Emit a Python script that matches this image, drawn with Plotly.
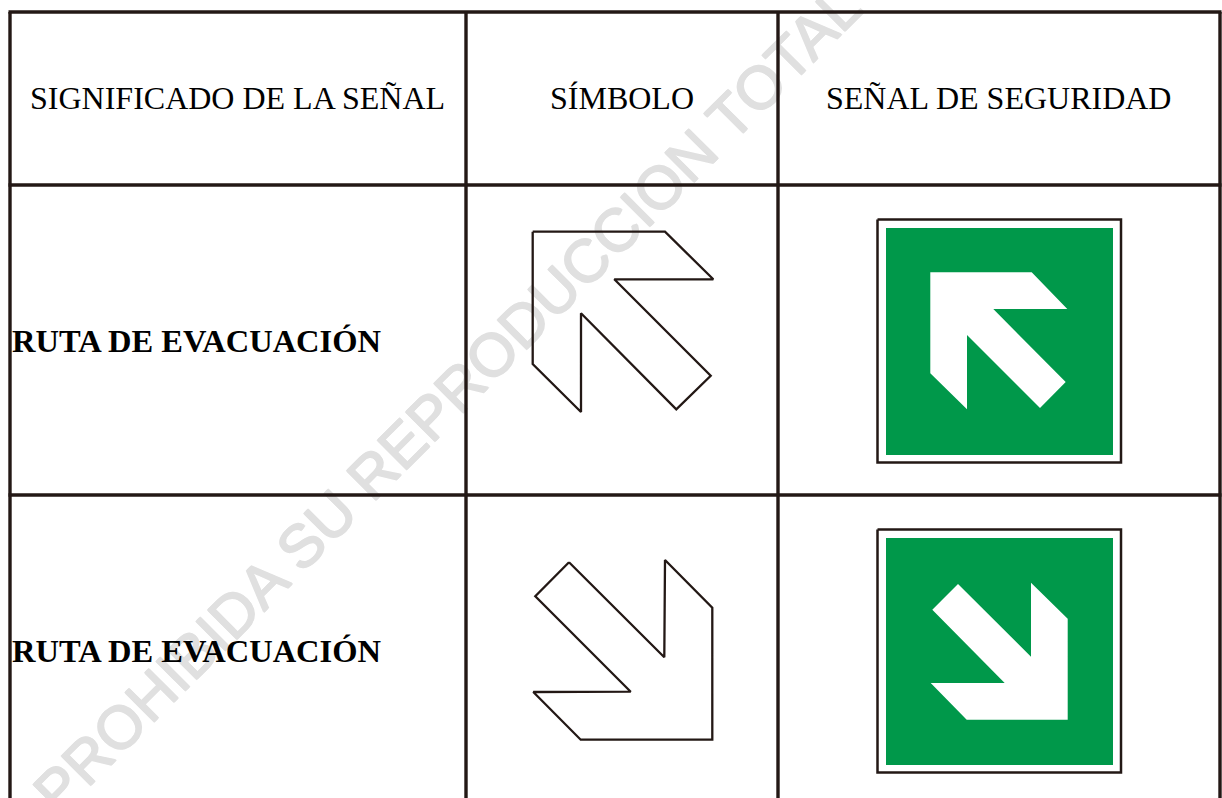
import plotly.graph_objects as go

HEADERS = ["SIGNIFICADO DE LA SEÑAL", "SÍMBOLO", "SEÑAL DE SEGURIDAD"]
HEADER_X = [237, 622, 998]
HEADER_Y = 98
ROW_LABEL = "RUTA DE EVACUACIÓN"
ROW_Y = [341, 651]
WATERMARK = "PROHIBIDA SU REPRODUCCION TOTAL"

H_LINES_Y = [12, 185, 495]
V_LINES_X = [10, 466, 778, 1220]

ARROW1_X = [532.7, 665, 713.3, 614.3, 710.7, 676.3, 581, 581, 532.7, 532.7]
ARROW1_Y = [231.7, 231.7, 279.3, 279.3, 375.7, 409.3, 313.3, 412, 364, 231.7]
ARROW2_X = [569, 664.3, 665, 712.3, 712.3, 580.7, 533.3, 630.7, 535.3, 569]
ARROW2_Y = [562.3, 657.3, 560, 607.7, 739.7, 739.7, 692, 691.7, 596.3, 562.3]

SIGN_X = [877.5, 1121]
SIGN_TOPS = [219.5, 529.5]
SIGN_SIZE = 243
GREEN_X = [886, 1113]
GREEN_TOPS = [228, 538]
GREEN_SIZE = 227

WHITE1_X = [930.3, 1031.7, 1067.3, 993.3, 1065.7, 1040, 967, 967, 930.3]
WHITE1_Y = [272.3, 272.3, 309, 309, 382, 408, 335, 409.3, 373.3]
WHITE2_X = [958, 1031, 1031, 1067.7, 1067.7, 966.7, 930.7, 1004.7, 932.3]
WHITE2_Y = [584, 656.7, 582.7, 618.7, 719.7, 719.7, 683, 683, 609.7]

INK = "#231815"
GREEN = "#00984A"
WATERMARK_COLOR = "#e0e0e0"

fig = go.Figure()

def line(x, y, width, color=INK):
    fig.add_trace(go.Scatter(x=x, y=y, mode="lines", line=dict(color=color, width=width),
                             hoverinfo="skip", showlegend=False))

def fill(x, y, color):
    fig.add_trace(go.Scatter(x=x, y=y, mode="lines", fill="toself", fillcolor=color,
                             line=dict(color=color, width=0), hoverinfo="skip", showlegend=False))

for yy in H_LINES_Y:
    line([V_LINES_X[0] - 1.5, V_LINES_X[-1] + 1.5], [yy, yy], 3.4)
for xx in V_LINES_X:
    line([xx, xx], [H_LINES_Y[0], 798], 3.4)

line(ARROW1_X, ARROW1_Y, 2.3)
line(ARROW2_X, ARROW2_Y, 2.3)

for top, gtop, wx, wy in zip(SIGN_TOPS, GREEN_TOPS, [WHITE1_X, WHITE2_X], [WHITE1_Y, WHITE2_Y]):
    bx = [SIGN_X[0], SIGN_X[1], SIGN_X[1], SIGN_X[0], SIGN_X[0]]
    by = [top, top, top + SIGN_SIZE, top + SIGN_SIZE, top]
    line(bx, by, 2.5)
    gx = [GREEN_X[0], GREEN_X[1], GREEN_X[1], GREEN_X[0], GREEN_X[0]]
    gy = [gtop, gtop, gtop + GREEN_SIZE, gtop + GREEN_SIZE, gtop]
    fill(gx, gy, GREEN)
    fill(wx, wy, "#ffffff")

annotations = []
for txt, xx in zip(HEADERS, HEADER_X):
    annotations.append(dict(x=xx, y=HEADER_Y, text=txt, showarrow=False, xanchor="center", yanchor="middle",
                            font=dict(family="Liberation Serif", size=32, color="#000000")))
for yy in ROW_Y:
    annotations.append(dict(x=10, y=yy, text="<b>" + ROW_LABEL + "</b>", showarrow=False, xanchor="left",
                            yanchor="middle", font=dict(family="Liberation Serif", size=32.5, color="#000000")))

halo = ",".join(f"{a}px {b}px 0 {WATERMARK_COLOR}" for a, b in
                [(-0.7, -0.7), (0.7, 0.7), (-0.7, 0.7), (0.7, -0.7)])
wm = dict(type="line", layer="below", x0=-33, y0=922, x1=967, y1=-78,
          xref="x", yref="y", line=dict(width=0, color="rgba(0,0,0,0)"),
          label=dict(text=WATERMARK, textangle=-45, textposition="middle",
                     font=dict(family="Liberation Sans", size=60, color=WATERMARK_COLOR, shadow=halo)))

fig.update_layout(
    width=1222, height=798, margin=dict(l=0, r=0, t=0, b=0),
    paper_bgcolor="#ffffff", plot_bgcolor="rgba(0,0,0,0)",
    xaxis=dict(range=[0, 1222], visible=False, fixedrange=True),
    yaxis=dict(range=[798, 0], visible=False, fixedrange=True),
    annotations=annotations, shapes=[wm], showlegend=False,
)
fig.write_html("out.html", config={"displayModeBar": False},
               post_script="document.body.style.margin='0';document.body.style.overflow='hidden';")
